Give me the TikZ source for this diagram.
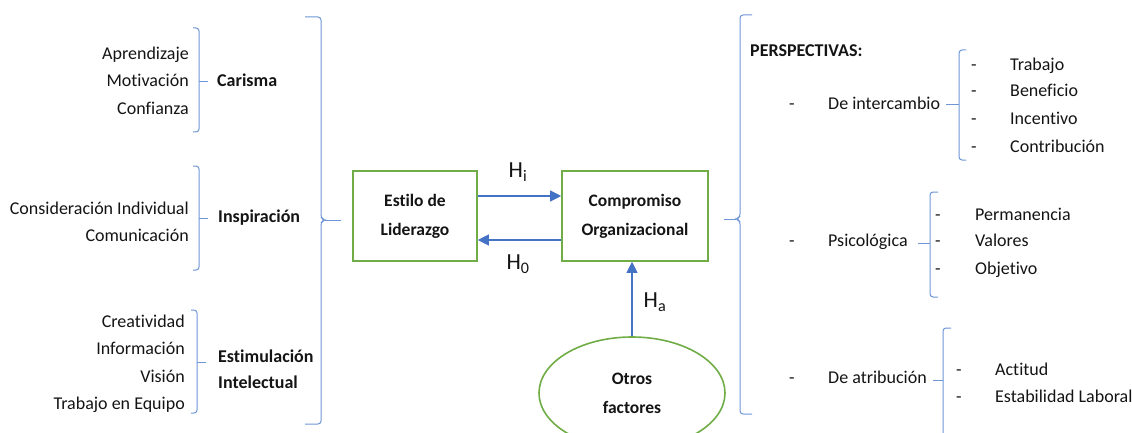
\documentclass[tikz,border=0pt]{standalone}
\usepackage{fontspec}
\setmainfont{Carlito}[Ligatures={NoCommon}]
\usetikzlibrary{arrows.meta,shapes.geometric}
\definecolor{brk}{RGB}{110,150,215}
\definecolor{arr}{RGB}{68,114,196}
\definecolor{grn}{RGB}{112,173,71}
\definecolor{txt}{RGB}{20,20,20}
\begin{document}
\begin{tikzpicture}[x=1pt,y=-1pt,
  every node/.style={inner sep=0pt,text=txt,font=\fontsize{18}{20}\selectfont,text height=0.72em,text depth=0.22em},
  item/.style={anchor=west,yshift=-2pt},
  ritem/.style={anchor=east,yshift=-2pt},
  bold/.style={font=\fontsize{18}{20}\selectfont\bfseries},
  multi/.style={text height=,text depth=},
  brack/.style={draw=brk,line width=1pt,rounded corners=3pt},
  gbox/.style={draw=grn,line width=1.6pt,minimum height=90pt,align=center,multi,font=\fontsize{17.5}{29}\selectfont\bfseries},
  harr/.style={draw=arr,line width=1.1pt,-{Triangle[length=11pt,width=11pt]}},
  hlab/.style={font=\fontsize{23}{25}\selectfont,text height=0.72em,text depth=0.2em}
]
\useasboundingbox (0,0) rectangle (1132,433);
\clip (0,0) rectangle (1132,433);

% left items
\node[ritem] (a1) at (189,55) {Aprendizaje};
\node[ritem] (a2) at (189,82) {Motivación};
\node[ritem] (a3) at (189,110) {Confianza};
\node[ritem] (b1) at (189,210) {Consideración Individual};
\node[ritem] (b2) at (189,237) {Comunicación};
\node[ritem] (c1) at (185,323) {Creatividad};
\node[ritem] (c2) at (185,350) {Información};
\node[ritem] (c3) at (185,378) {Visión};
\node[ritem] (c4) at (185,405) {Trabajo en Equipo};

% small left brackets
\draw[brack] (193,28) -- (199,28) -- (199,132) -- (193,132);
\draw[brack] (199,82) -- (208,82);
\draw[brack] (193,166) -- (199,166) -- (199,270) -- (193,270);
\draw[brack] (199,218) -- (208,218);
\draw[brack] (191,310) -- (197,310) -- (197,413) -- (191,413);
\draw[brack] (197,362) -- (206,362);

\node[item,bold] (car) at (217,82) {Carisma};
\node[item,bold] (ins) at (218,218) {Inspiración};
\node[item,align=left,multi,font=\fontsize{18}{26}\selectfont\bfseries] (est) at (218,367) {Estimulación\\Intelectual};

% big left bracket
\draw[brack] (305,17) -- (321,17) -- (321,218) -- (325,220) -- (321,222) -- (321,424) -- (305,424);
\draw[brack] (325,220) -- (341,220);

% boxes
\node[gbox,minimum width=124pt] (el) at (415,216) {Estilo de\\Liderazgo};
\node[gbox,minimum width=146pt] (co) at (635,216) {Compromiso\\Organizacional};
\node[ellipse,draw=grn,line width=1.6pt,minimum width=186pt,minimum height=112pt,align=center,multi,font=\fontsize{17.5}{29}\selectfont\bfseries] (ot) at (632,393) {Otros\\factores};

\draw[harr] (el.east|-0,196) -- (co.west|-0,196);
\draw[harr] (co.west|-0,240) -- (el.east|-0,240);
\draw[harr] (ot.north-|632,0) -- (co.south-|632,0);

\node[hlab] (hi) at (518,175) {H\textsubscript{i}};
\node[hlab] (h0) at (518,267) {H\textsubscript{0}};
\node[hlab] (ha) at (655,305) {H\textsubscript{a}};

% right big bracket
\draw[brack] (752,15) -- (740,15) -- (740,217) -- (736,219) -- (740,221) -- (740,414) -- (752,414);
\draw[brack] (736,219) -- (724,219);

\node[item,bold] (per) at (750,52) {PERSPECTIVAS:};

\node[item] (d1) at (789,105) {-};
\node[item] (int) at (828,105) {De intercambio};
\node[item] (d2) at (789,242) {-};
\node[item] (psi) at (828,242) {Psicológica};
\node[item] (d3) at (789,379) {-};
\node[item] (atr) at (828,379) {De atribución};

% right small brackets
\draw[brack] (966,50) -- (959,50) -- (959,160) -- (966,160);
\draw[brack] (959,105) -- (946,105);
\draw[brack] (938,192) -- (930,192) -- (930,297) -- (938,297);
\draw[brack] (930,243) -- (918,243);
\draw[brack] (951,328) -- (943,328) -- (943,440);
\draw[brack] (943,380) -- (933,380);

\node[item] (e1) at (971,66) {-};
\node[item] (e2) at (971,92) {-};
\node[item] (e3) at (971,120) {-};
\node[item] (e4) at (971,148) {-};
\node[item] (t1) at (1010,66) {Trabajo};
\node[item] (t2) at (1010,92) {Beneficio};
\node[item] (t3) at (1010,120) {Incentivo};
\node[item] (t4) at (1010,148) {Contribución};

\node[item] (f1) at (935,216) {-};
\node[item] (f2) at (935,242) {-};
\node[item] (f3) at (935,270) {-};
\node[item] (p1) at (975,216) {Permanencia};
\node[item] (p2) at (975,242) {Valores};
\node[item] (p3) at (975,270) {Objetivo};

\node[item] (g1) at (956,371) {-};
\node[item] (g2) at (956,398) {-};
\node[item] (q1) at (995,371) {Actitud};
\node[item] (q2) at (995,398) {Estabilidad Laboral};
\end{tikzpicture}
\end{document}
